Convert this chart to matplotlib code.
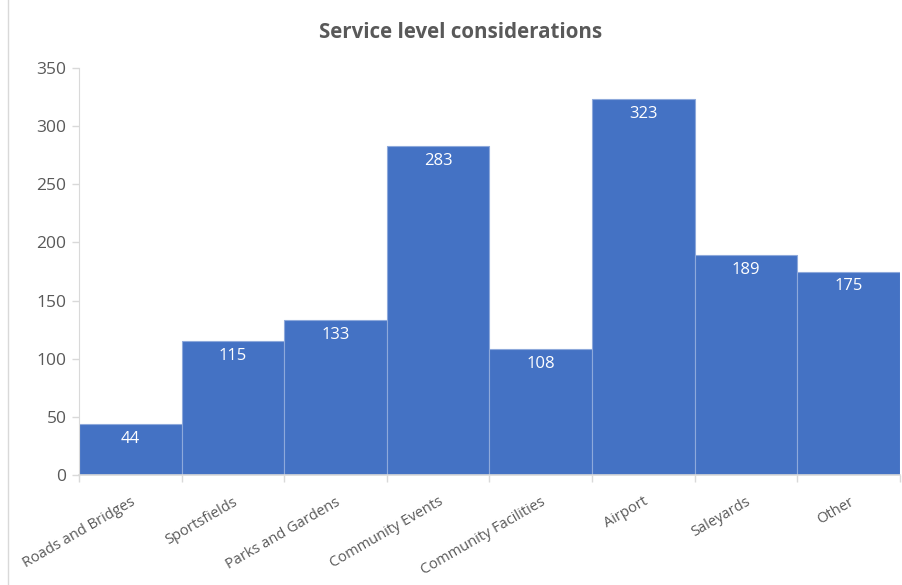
import matplotlib
matplotlib.use("Agg")
import matplotlib.pyplot as plt
from matplotlib.lines import Line2D
import numpy as np

categories = ["Roads and Bridges", "Sportsfields", "Parks and Gardens", "Community Events",
              "Community Facilities", "Airport", "Saleyards", "Other"]
values = [44, 115, 133, 283, 108, 323, 189, 175]
yticks = [0, 50, 100, 150, 200, 250, 300, 350]

plt.rcParams['font.family'] = ['Open Sans', 'DejaVu Sans']
gray = '#595959'

fig = plt.figure(figsize=(9.03, 5.85), dpi=100)
ax = fig.add_axes([79/903, 1-475/585, (900-79)/903, (475-68)/585])

x = np.arange(len(categories))
ax.bar(x, values, width=1.0, align='edge', color='#4472C4', edgecolor='#8EA9DB', linewidth=0.8)

for xi, v in zip(x, values):
    ax.annotate(str(v), (xi + 0.5, v), xytext=(0, -5), textcoords='offset points',
                ha='center', va='top', color='white', fontsize=12)

ax.set_xlim(0, len(categories))
ax.set_ylim(0, 350)
ax.set_yticks(yticks)
ax.set_xticks(np.arange(len(categories) + 1))
ax.set_xticklabels([])
ax.set_xticks(x + 0.5, minor=True)
ax.set_xticklabels(categories, minor=True, rotation=30, ha='right', rotation_mode='anchor',
                   color=gray, fontsize=10.5)
ax.tick_params(axis='x', which='minor', length=0, pad=14)
ax.tick_params(axis='x', which='major', length=5, color='#D9D9D9', width=1)
ax.tick_params(axis='y', length=5, color='#D9D9D9', width=1, labelcolor=gray, labelsize=12.5, pad=4)

for s in ['top', 'right']:
    ax.spines[s].set_visible(False)
ax.spines['left'].set_color('#D9D9D9')
ax.spines['bottom'].set_color('#D9D9D9')
ax.spines['bottom'].set_linewidth(1.2)

fig.text(461/903, 1-33/585, "Service level considerations", ha='center', va='center',
         fontsize=14.8, fontweight='bold', color=gray)

fig.add_artist(Line2D([8/903, 8/903], [0, 1], color='#D9D9D9', linewidth=1, transform=fig.transFigure))

fig.savefig("out.png", dpi=100)
